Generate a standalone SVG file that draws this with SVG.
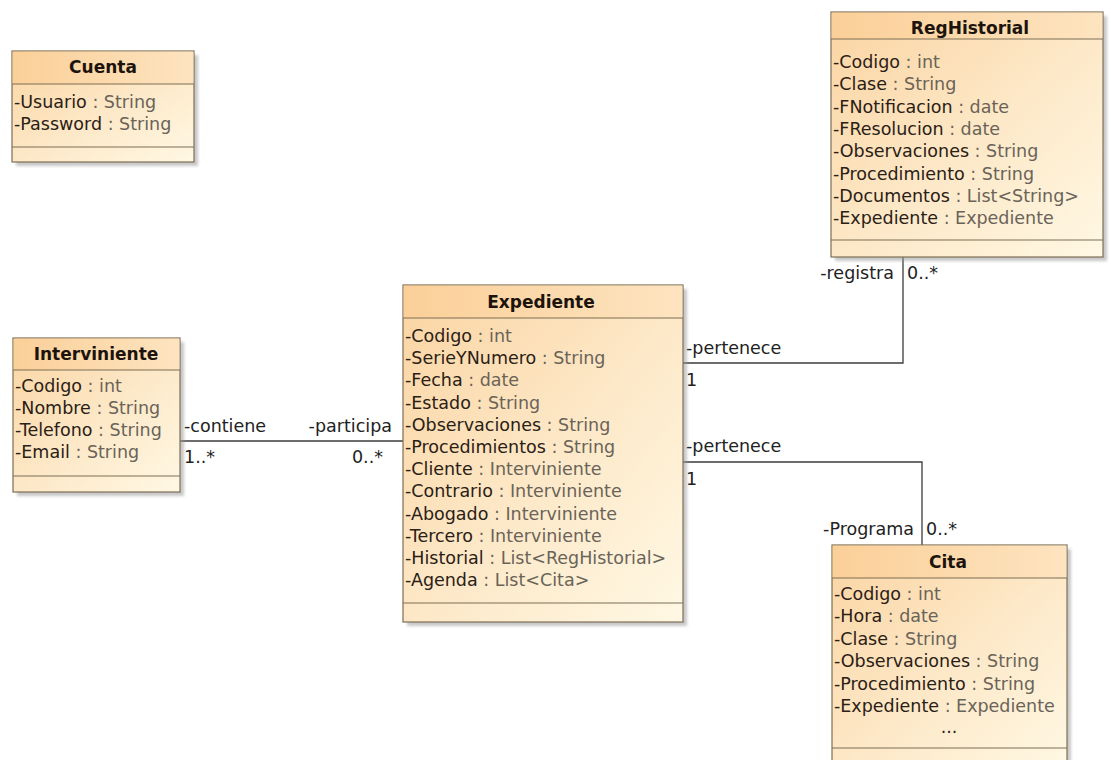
<svg xmlns="http://www.w3.org/2000/svg" width="1111" height="760" viewBox="0 0 1111 760">
  <style>
    .shadow { fill: #9a9a9a; opacity: 0.55; }
    .box { fill: url(#bodyFill); stroke: #7d6e55; stroke-width: 1.2; }
    .head { fill: url(#headFill); stroke: none; }
    .sep { stroke: #7d6e55; stroke-width: 1.2; }
    .title { font-family: "DejaVu Sans", Verdana, sans-serif; font-weight: bold; font-size: 17px; fill: #1c140c; text-anchor: middle; }
    .attr { font-family: "DejaVu Sans", Verdana, sans-serif; font-size: 17.5px; fill: #2a2015; }
    .type { fill: #6a6358; }
    .lbl { font-family: "DejaVu Sans", Verdana, sans-serif; font-size: 17.5px; fill: #222; }
    .end { text-anchor: end; }
    .wire { fill: none; stroke: #3c3c3c; stroke-width: 1.3; }
  </style>
  <defs>
    <linearGradient id="bodyFill" x1="0" y1="0" x2="1" y2="1">
      <stop offset="0" stop-color="#fbd4a2"/>
      <stop offset="0.55" stop-color="#fde9c9"/>
      <stop offset="1" stop-color="#fff8e4"/>
    </linearGradient>
    <linearGradient id="headFill" x1="0" y1="0" x2="1" y2="0">
      <stop offset="0" stop-color="#fbcf98"/>
      <stop offset="1" stop-color="#fde4c0"/>
    </linearGradient>
    <filter id="soft" x="-5%" y="-5%" width="110%" height="110%">
      <feGaussianBlur stdDeviation="1.5"/>
    </filter>
  </defs>

  <rect width="1111" height="760" fill="#ffffff"/>

  <!-- associations -->
  <g id="connectors">
    <polyline class="wire" points="180,441 403,441"/>
    <polyline class="wire" points="683,363 903,363 903,257"/>
    <polyline class="wire" points="683,462 922,462 922,545"/>

    <text class="lbl" x="184" y="432">-contiene</text>
    <text class="lbl end" x="392" y="432">-participa</text>
    <text class="lbl" x="184" y="463">1..*</text>
    <text class="lbl end" x="383" y="463">0..*</text>

    <text class="lbl" x="686" y="354">-pertenece</text>
    <text class="lbl" x="686" y="386">1</text>
    <text class="lbl end" x="894" y="279">-registra</text>
    <text class="lbl" x="907" y="279">0..*</text>

    <text class="lbl" x="686" y="452">-pertenece</text>
    <text class="lbl" x="686" y="485">1</text>
    <text class="lbl end" x="914" y="535">-Programa</text>
    <text class="lbl" x="926" y="535">0..*</text>
  </g>

  <!-- Cuenta -->
  <g id="cuenta">
    <rect class="shadow" x="16" y="55" width="182" height="111" filter="url(#soft)"/>
    <rect class="box" x="12" y="51" width="182" height="111"/>
    <rect class="head" x="12.6" y="51.6" width="180.8" height="32.4"/>
    <line class="sep" x1="12" y1="84" x2="194" y2="84"/>
    <line class="sep" x1="12" y1="147" x2="194" y2="147"/>
    <text class="title" x="103" y="73">Cuenta</text>
    <text class="attr" x="14" y="108">-Usuario <tspan class="type">: String</tspan></text>
    <text class="attr" x="14" y="130">-Password <tspan class="type">: String</tspan></text>
  </g>

  <!-- RegHistorial -->
  <g id="reghistorial">
    <rect class="shadow" x="835" y="16" width="272" height="245" filter="url(#soft)"/>
    <rect class="box" x="831" y="12" width="272" height="245"/>
    <rect class="head" x="831.6" y="12.6" width="270.8" height="26.4"/>
    <line class="sep" x1="831" y1="39" x2="1103" y2="39"/>
    <line class="sep" x1="831" y1="240" x2="1103" y2="240"/>
    <text class="title" x="970" y="34">RegHistorial</text>
    <text class="attr" x="833" y="68">-Codigo <tspan class="type">: int</tspan></text>
    <text class="attr" x="833" y="90.3">-Clase <tspan class="type">: String</tspan></text>
    <text class="attr" x="833" y="112.6">-FNotificacion <tspan class="type">: date</tspan></text>
    <text class="attr" x="833" y="134.9">-FResolucion <tspan class="type">: date</tspan></text>
    <text class="attr" x="833" y="157.2">-Observaciones <tspan class="type">: String</tspan></text>
    <text class="attr" x="833" y="179.5">-Procedimiento <tspan class="type">: String</tspan></text>
    <text class="attr" x="833" y="201.8">-Documentos <tspan class="type">: List&lt;String&gt;</tspan></text>
    <text class="attr" x="833" y="224.1">-Expediente <tspan class="type">: Expediente</tspan></text>
  </g>

  <!-- Expediente -->
  <g id="expediente">
    <rect class="shadow" x="407" y="289" width="280" height="337" filter="url(#soft)"/>
    <rect class="box" x="403" y="285" width="280" height="337"/>
    <rect class="head" x="403.6" y="285.6" width="278.8" height="32.4"/>
    <line class="sep" x1="403" y1="318" x2="683" y2="318"/>
    <line class="sep" x1="403" y1="603" x2="683" y2="603"/>
    <text class="title" x="541" y="308">Expediente</text>
    <text class="attr" x="405" y="342">-Codigo <tspan class="type">: int</tspan></text>
    <text class="attr" x="405" y="364.2">-SerieYNumero <tspan class="type">: String</tspan></text>
    <text class="attr" x="405" y="386.4">-Fecha <tspan class="type">: date</tspan></text>
    <text class="attr" x="405" y="408.6">-Estado <tspan class="type">: String</tspan></text>
    <text class="attr" x="405" y="430.8">-Observaciones <tspan class="type">: String</tspan></text>
    <text class="attr" x="405" y="453">-Procedimientos <tspan class="type">: String</tspan></text>
    <text class="attr" x="405" y="475.2">-Cliente <tspan class="type">: Interviniente</tspan></text>
    <text class="attr" x="405" y="497.4">-Contrario <tspan class="type">: Interviniente</tspan></text>
    <text class="attr" x="405" y="519.6">-Abogado <tspan class="type">: Interviniente</tspan></text>
    <text class="attr" x="405" y="541.8">-Tercero <tspan class="type">: Interviniente</tspan></text>
    <text class="attr" x="405" y="564">-Historial <tspan class="type">: List&lt;RegHistorial&gt;</tspan></text>
    <text class="attr" x="405" y="586.2">-Agenda <tspan class="type">: List&lt;Cita&gt;</tspan></text>
  </g>

  <!-- Interviniente -->
  <g id="interviniente">
    <rect class="shadow" x="17" y="342" width="167" height="154" filter="url(#soft)"/>
    <rect class="box" x="13" y="338" width="167" height="154"/>
    <rect class="head" x="13.6" y="338.6" width="165.8" height="31.4"/>
    <line class="sep" x1="13" y1="370" x2="180" y2="370"/>
    <line class="sep" x1="13" y1="476" x2="180" y2="476"/>
    <text class="title" x="96" y="360">Interviniente</text>
    <text class="attr" x="15" y="392">-Codigo <tspan class="type">: int</tspan></text>
    <text class="attr" x="15" y="414">-Nombre <tspan class="type">: String</tspan></text>
    <text class="attr" x="15" y="436">-Telefono <tspan class="type">: String</tspan></text>
    <text class="attr" x="15" y="458">-Email <tspan class="type">: String</tspan></text>
  </g>

  <!-- Cita -->
  <g id="cita">
    <rect class="shadow" x="836" y="549" width="235" height="225" filter="url(#soft)"/>
    <rect class="box" x="832" y="545" width="235" height="225"/>
    <rect class="head" x="832.6" y="545.6" width="233.8" height="32.4"/>
    <line class="sep" x1="832" y1="578" x2="1067" y2="578"/>
    <line class="sep" x1="832" y1="748" x2="1067" y2="748"/>
    <text class="title" x="948" y="568">Cita</text>
    <text class="attr" x="834" y="600">-Codigo <tspan class="type">: int</tspan></text>
    <text class="attr" x="834" y="622.4">-Hora <tspan class="type">: date</tspan></text>
    <text class="attr" x="834" y="644.8">-Clase <tspan class="type">: String</tspan></text>
    <text class="attr" x="834" y="667.2">-Observaciones <tspan class="type">: String</tspan></text>
    <text class="attr" x="834" y="689.6">-Procedimiento <tspan class="type">: String</tspan></text>
    <text class="attr" x="834" y="712">-Expediente <tspan class="type">: Expediente</tspan></text>
    <text class="attr" x="949" y="733" text-anchor="middle">...</text>
  </g>
</svg>
